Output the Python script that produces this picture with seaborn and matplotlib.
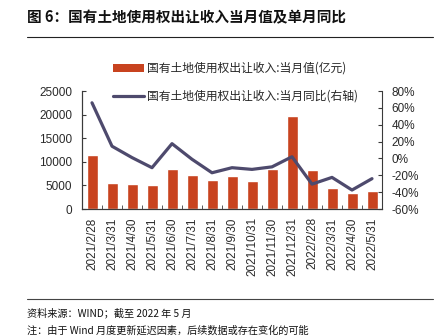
import numpy as np
import pandas as pd
import matplotlib
matplotlib.use("Agg")
import matplotlib.pyplot as plt
import seaborn as sns
from matplotlib.lines import Line2D
from matplotlib.patches import Patch

# ---- data ----
dates = ["2021/2/28", "2021/3/31", "2021/4/30", "2021/5/31", "2021/6/30",
         "2021/7/31", "2021/8/31", "2021/9/30", "2021/10/31", "2021/11/30",
         "2021/12/31", "2022/2/28", "2022/3/31", "2022/4/30", "2022/5/31"]
monthly_value = [11400, 5500, 5200, 5000, 8500, 7100, 6100, 6900, 6000, 8500,
                 19600, 8200, 4400, 3400, 3850]
yoy_pct = [66, 14.5, 1, -11, 17.5, -1, -17, -11, -13, -10, 2, -30.5, -22.5, -37.5, -24]

bar_label = "国有土地使用权出让收入:当月值(亿元)"
line_label = "国有土地使用权出让收入:当月同比(右轴)"
title = "图 6：国有土地使用权出让收入当月值及单月同比"
source = "资料来源：WIND；截至 2022 年 5 月"
note = "注：由于 Wind 月度更新延迟因素，后续数据或存在变化的可能"
left_ticks = [0, 5000, 10000, 15000, 20000, 25000]
right_ticks = [-60, -40, -20, 0, 20, 40, 60, 80]

bar_color = "#C8431F"
line_color = "#4E4A6D"
spine_color = "#3a3a3a"

sns.set_style("ticks")
plt.rcParams["font.family"] = ["Liberation Sans", "Noto Sans CJK SC", "DejaVu Sans"]
cjk = ["Noto Sans CJK SC", "DejaVu Sans"]

df = pd.DataFrame({"date": dates, "value": monthly_value, "yoy": yoy_pct,
                   "pos": np.arange(len(dates))})

fig = plt.figure(figsize=(4.37, 3.36), dpi=100)
ax = fig.add_axes([82 / 437, 1 - 209 / 336, (382 - 82) / 437, (209 - 91) / 336])

sns.barplot(data=df, x="date", y="value", color=bar_color, width=0.55,
            saturation=1, ax=ax, zorder=2)
ax.set_ylim(0, 25000)
ax.set_yticks(left_ticks)
ax.set_yticklabels([str(v) for v in left_ticks])
ax.set_xlim(-0.5, len(dates) - 0.5)
ax.set_xlabel("")
ax.set_ylabel("")
ax.set_xticks(np.arange(len(dates)))
ax.set_xticklabels(dates, rotation=90)
ax.tick_params(axis="x", which="major", length=0, pad=6, labelsize=8.5, colors="#2a2a2a")
ax.set_xticks(np.arange(len(dates) + 1) - 0.5, minor=True)
ax.tick_params(axis="x", which="minor", direction="in", length=3, color=spine_color)
ax.tick_params(axis="y", direction="in", length=3, pad=7, labelsize=8.5,
               colors="#2a2a2a", color=spine_color)

ax2 = ax.twinx()
sns.lineplot(data=df, x="pos", y="yoy", color=line_color, linewidth=2.3, ax=ax2,
             zorder=3)
ax2.set_ylim(-60, 80)
ax2.set_yticks(right_ticks)
ax2.set_yticklabels([f"{v}%" for v in right_ticks])
ax2.set_ylabel("")
ax2.set_xlabel("")
ax2.tick_params(axis="y", direction="in", length=3, pad=7, labelsize=8.5,
                colors="#2a2a2a", color=spine_color)
ax2.set_xlim(-0.5, len(dates) - 0.5)

for a in (ax, ax2):
    a.spines["top"].set_visible(False)
    for s in ("left", "right", "bottom"):
        a.spines[s].set_color(spine_color)
        a.spines[s].set_linewidth(0.8)
ax.spines["right"].set_visible(False)

handles = [Patch(facecolor=bar_color, edgecolor="none"),
           Line2D([0], [0], color=line_color, linewidth=2.3)]
leg = fig.legend(handles, [bar_label, line_label], loc="upper left",
                 bbox_to_anchor=(113 / 437, 1 - 62 / 336), frameon=False,
                 borderpad=0, borderaxespad=0, handlelength=2.6,
                 handletextpad=0.3, labelspacing=1.25,
                 prop={"family": cjk, "size": 8.5})

fig.text(27 / 437, 1 - 17 / 336, title, family=cjk, fontsize=10.5,
         fontweight="bold", va="center", ha="left", color="#111111")
fig.add_artist(Line2D([27 / 437, 433 / 437], [1 - 37 / 336, 1 - 37 / 336],
                      color="#222222", linewidth=0.8))
fig.add_artist(Line2D([27 / 437, 433 / 437], [1 - 299 / 336, 1 - 299 / 336],
                      color="#444444", linewidth=0.8))
fig.text(27 / 437, 1 - 313 / 336, source, family=cjk, fontsize=7.3,
         va="center", ha="left", color="#111111")
fig.text(27 / 437, 1 - 330 / 336, note, family=cjk, fontsize=7.3,
         va="center", ha="left", color="#111111")

fig.savefig("out.png", dpi=100, facecolor="white")
